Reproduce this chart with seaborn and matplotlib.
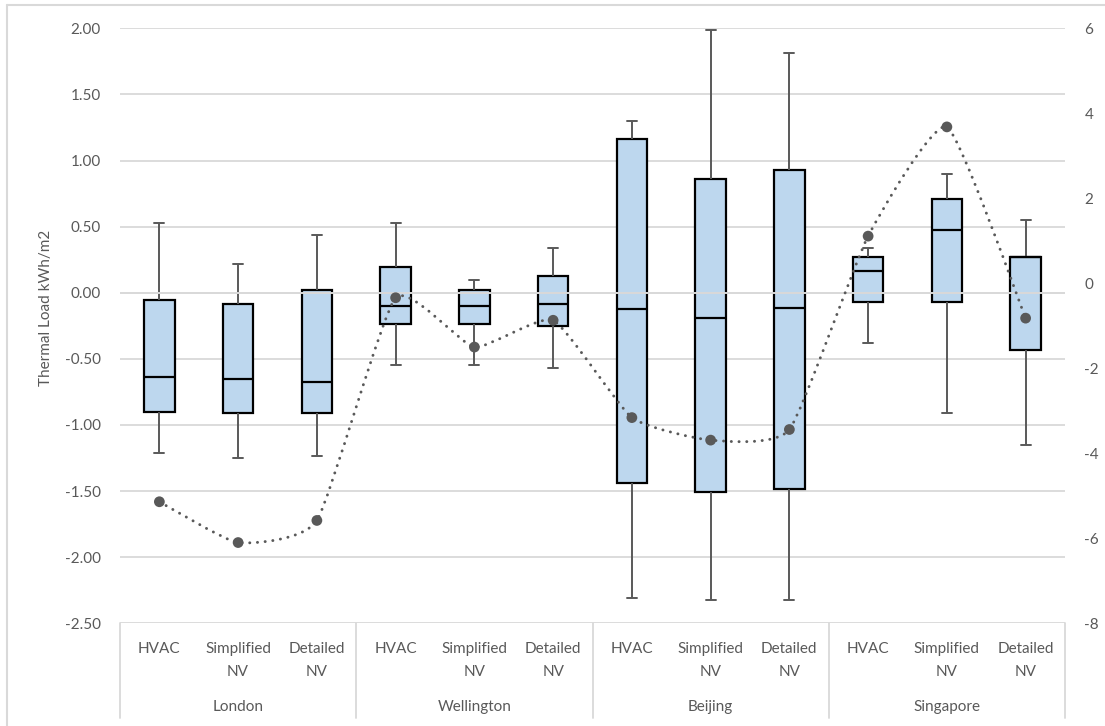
import numpy as np
import pandas as pd
import matplotlib
matplotlib.use("Agg")
import matplotlib.pyplot as plt
from matplotlib.path import Path
from matplotlib.patches import PathPatch
from matplotlib.lines import Line2D
from matplotlib.transforms import blended_transform_factory
import seaborn as sns

# ---- data -----------------------------------------------------------------
cities = ["London", "Wellington", "Beijing", "Singapore"]
methods = ["HVAC", "Simplified\nNV", "Detailed\nNV"]

whisker_low = [-1.21, -1.25, -1.235, -0.55, -0.55, -0.57, -2.31, -2.32, -2.32, -0.38, -0.91, -1.15]
q1 = [-0.90, -0.91, -0.91, -0.24, -0.24, -0.255, -1.44, -1.505, -1.485, -0.07, -0.07, -0.43]
median = [-0.635, -0.65, -0.675, -0.10, -0.10, -0.085, -0.12, -0.19, -0.115, 0.165, 0.475, 0.27]
q3 = [-0.055, -0.085, 0.02, 0.195, 0.02, 0.13, 1.16, 0.86, 0.93, 0.27, 0.71, 0.27]
whisker_high = [0.53, 0.22, 0.44, 0.53, 0.10, 0.335, 1.30, 1.99, 1.815, 0.335, 0.90, 0.55]

# values on the secondary axis (dotted smoothed line)
secondary = [-5.14, -6.10, -5.58, -0.34, -1.50, -0.87, -3.16, -3.69, -3.44, 1.11, 3.68, -0.82]

left_ticks = [-2.5, -2.0, -1.5, -1.0, -0.5, 0.0, 0.5, 1.0, 1.5, 2.0]
right_ticks = [-8, -6, -4, -2, 0, 2, 4, 6]
y_title = "Thermal Load kWh/m2"

# ---- style ----------------------------------------------------------------
sns.set_theme(style="white")
plt.rcParams["font.family"] = ["Lato", "DejaVu Sans"]
plt.rcParams["axes.unicode_minus"] = False

TEXT = "#595959"
GRID = "#D9D9D9"
FILL = "#BDD7EE"
FS = 11

W, H = 1105, 726
fig = plt.figure(figsize=(W / 100, H / 100), dpi=100)
ax_l, ax_r, ax_t, ax_b = 120, 1065, 28.3, 623.3
ax = fig.add_axes([ax_l / W, 1 - ax_b / H, (ax_r - ax_l) / W, (ax_b - ax_t) / H])

# long-form table: five summary values per box so quartiles land exactly
labels = [f"{c}|{m}" for c in cities for m in methods]
rows = []
for lab, lo, a, md, b, hi in zip(labels, whisker_low, q1, median, q3, whisker_high):
    for v in (lo, a, md, b, hi):
        rows.append({"case": lab, "load": v})
df = pd.DataFrame(rows)

sns.boxplot(
    data=df, x="case", y="load", order=labels, ax=ax,
    whis=(0, 100), width=0.39, color=FILL, saturation=1,
    linecolor="black", linewidth=1.6, fliersize=0,
    whiskerprops=dict(color=TEXT, linewidth=1.4),
    capprops=dict(color=TEXT, linewidth=1.4),
    medianprops=dict(color="black", linewidth=1.6),
    capwidths=0.13,
)

ax.set_xlim(-0.5, len(labels) - 0.5)
ax.set_ylim(-2.5, 2.0)
ax.set_yticks(left_ticks)
ax.set_yticklabels([f"{t:.2f}" for t in left_ticks])
ax.set_xticks([])
ax.set_xlabel("")
ax.set_ylabel("")
ax.grid(False)
for t in left_ticks:
    ax.axhline(t, color=GRID, lw=1.3, zorder=0.5)
# the zero line sits over the boxes
ax.axhline(0, color=GRID, lw=1.4, zorder=5)
for s in ax.spines.values():
    s.set_visible(False)
ax.tick_params(axis="y", length=0, pad=14, labelsize=FS, labelcolor=TEXT)

# ---- secondary axis -------------------------------------------------------
ax2 = ax.twinx()
ax2.set_ylim(-8, 6)
ax2.set_yticks(right_ticks)
ax2.set_yticklabels([str(t) for t in right_ticks])
ax2.tick_params(axis="y", length=0, pad=14, labelsize=FS, labelcolor=TEXT)
for s in ax2.spines.values():
    s.set_visible(False)
ax2.grid(False)

xs = np.arange(len(secondary), dtype=float)
ys = np.array(secondary, dtype=float)
# gently smoothed connector: cubic Bezier segments with short tangent handles
TENSION = 1 / 12
verts = [(xs[0], ys[0])]
codes = [Path.MOVETO]
n = len(xs)
for i in range(n - 1):
    p0 = np.array([xs[max(i - 1, 0)], ys[max(i - 1, 0)]])
    p1 = np.array([xs[i], ys[i]])
    p2 = np.array([xs[i + 1], ys[i + 1]])
    p3 = np.array([xs[min(i + 2, n - 1)], ys[min(i + 2, n - 1)]])
    c1 = p1 + (p2 - p0) * TENSION
    c2 = p2 - (p3 - p1) * TENSION
    verts += [tuple(c1), tuple(c2), tuple(p2)]
    codes += [Path.CURVE4] * 3
curve = PathPatch(Path(verts, codes), fill=False, edgecolor=TEXT,
                  lw=2.1, linestyle=(0, (0.05, 2.6)), capstyle="round", zorder=3)
ax2.add_patch(curve)

sns.scatterplot(x=xs, y=ys, ax=ax2, color=TEXT, s=60, edgecolor="none", zorder=4, legend=False)
ax2.set_xlim(-0.5, len(labels) - 0.5)

# ---- two-level category axis ----------------------------------------------
tr = blended_transform_factory(ax.transData, fig.transFigure)


def fy(px):
    return 1 - px / H


for i, lab in enumerate(labels):
    lines = lab.split("|")[1].split("\n")
    for k, line in enumerate(lines):
        ax.text(i, fy(652.7 + 23.5 * k), line, transform=tr, ha="center",
                va="baseline", fontsize=FS, color=TEXT, clip_on=False)

for g, city in enumerate(cities):
    ax.text(g * 3 + 1, fy(710.7), city, transform=tr, ha="center",
            va="baseline", fontsize=FS, color=TEXT, clip_on=False)

for xb in [-0.5, 2.5, 5.5, 8.5, 11.5]:
    ax.add_line(Line2D([xb, xb], [fy(623.3), fy(718)], transform=tr,
                       color=GRID, lw=1.3, clip_on=False))

# axis title
fig.text(46 / W, fy(308), y_title, rotation=90, ha="center", va="center",
         fontsize=FS, color=TEXT)

# chart frame (left and top edges)
fig.add_artist(Line2D([7 / W, 7 / W], [fy(5), 0], transform=fig.transFigure,
                      color=GRID, lw=1.5))
fig.add_artist(Line2D([7 / W, 1], [fy(5), fy(5)], transform=fig.transFigure,
                      color=GRID, lw=1.5))

fig.savefig("out.png", dpi=100, facecolor="white")
